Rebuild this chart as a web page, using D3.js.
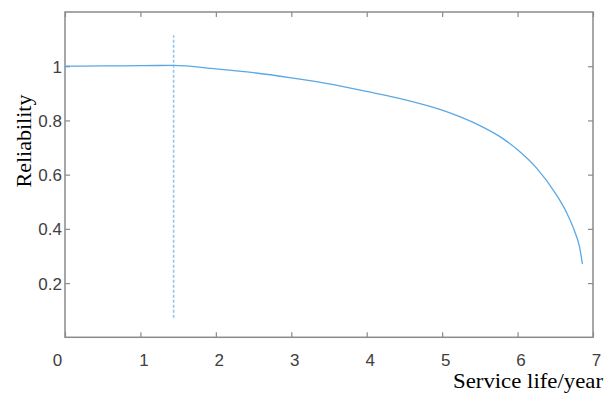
<!DOCTYPE html>
<html>
<head>
<meta charset="utf-8">
<script src="https://cdn.jsdelivr.net/npm/d3@7"></script>
<style>
  html, body { margin: 0; padding: 0; background: #fff; }
  svg { display: block; }
</style>
</head>
<body>
<svg id="chart" width="611" height="393"></svg>
<script>
// ---- data ----
const years = [0, 0.5, 1, 1.44, 2, 2.5, 3, 3.5, 4, 4.5, 5, 5.25, 5.5, 5.75, 6, 6.25, 6.5, 6.65, 6.75, 6.82, 6.86];
const reliability = [1.000, 1.001, 1.002, 1.003, 0.990, 0.976, 0.957, 0.935, 0.907, 0.877, 0.838, 0.812, 0.781, 0.743, 0.692, 0.625, 0.532, 0.460, 0.396, 0.335, 0.27];
const markerYear = [1.44];
const markerRange = [0.072, 1.114];
const xTicks = [0, 1, 2, 3, 4, 5, 6, 7];
const yTicks = [0.2, 0.4, 0.6, 0.8, 1];
const xTitle = "Service life/year";
const yTitle = "Reliability";

// ---- layout ----
const svg = d3.select("#chart");
const mLeft = 65, mRight = 593, mTop = 12, mBottom = 337.3;
const x = d3.scaleLinear().domain([0, 7]).range([mLeft, mRight]);
const y = d3.scaleLinear().domain([0, 1.2]).range([mBottom, mTop]);

const axisColor = "#8a8a8a";
const labelColor = "#404040";

// box
svg.append("rect")
  .attr("x", mLeft).attr("y", mTop)
  .attr("width", mRight - mLeft).attr("height", mBottom - mTop)
  .attr("fill", "none").attr("stroke", axisColor).attr("stroke-width", 1.5);

// bottom axis (inward ticks)
const gx = svg.append("g").attr("transform", `translate(0,${mBottom})`)
  .call(d3.axisBottom(x).tickValues(xTicks).tickSize(-5).tickPadding(0).tickFormat(d3.format("d")));
gx.select(".domain").remove();
gx.selectAll(".tick line").attr("stroke", axisColor).attr("stroke-width", 1.2);
gx.selectAll(".tick text")
  .attr("fill", labelColor)
  .style("font-family", "'Liberation Sans', Arial, sans-serif")
  .style("font-size", "17px")
  .attr("dy", null)
  .attr("y", 28.5)
  .attr("x", d => d === 0 ? -8 : 3);

// top ticks
const gxt = svg.append("g").attr("transform", `translate(0,${mTop})`)
  .call(d3.axisTop(x).tickValues(xTicks).tickSize(-5).tickFormat(""));
gxt.select(".domain").remove();
gxt.selectAll(".tick line").attr("stroke", axisColor).attr("stroke-width", 1.2);

// left axis
const gy = svg.append("g").attr("transform", `translate(${mLeft},0)`)
  .call(d3.axisLeft(y).tickValues(yTicks).tickSize(-5).tickPadding(0).tickFormat(d => String(d)));
gy.select(".domain").remove();
gy.selectAll(".tick line").attr("stroke", axisColor).attr("stroke-width", 1.2);
gy.selectAll(".tick text")
  .attr("fill", labelColor)
  .style("font-family", "'Liberation Sans', Arial, sans-serif")
  .style("font-size", "17px")
  .attr("x", -3)
  .attr("dy", "0.36em");

// right ticks
const gyr = svg.append("g").attr("transform", `translate(${mRight},0)`)
  .call(d3.axisRight(y).tickValues(yTicks).tickSize(-5).tickFormat(""));
gyr.select(".domain").remove();
gyr.selectAll(".tick line").attr("stroke", axisColor).attr("stroke-width", 1.2);

// dashed marker line
svg.append("line")
  .attr("x1", x(markerYear[0])).attr("x2", x(markerYear[0]))
  .attr("y1", y(markerRange[0])).attr("y2", y(markerRange[1]))
  .attr("stroke", "#8ec6ee").attr("stroke-width", 1.6)
  .attr("stroke-dasharray", "3,2");

// curve
const pts = years.map((d, i) => [d, reliability[i]]);
svg.append("path")
  .datum(pts)
  .attr("fill", "none")
  .attr("stroke", "#5aa8e4")
  .attr("stroke-width", 1.3)
  .attr("d", d3.line().x(d => x(d[0])).y(d => y(d[1])).curve(d3.curveMonotoneX));

// titles
svg.append("text")
  .attr("x", 603).attr("y", 388)
  .attr("text-anchor", "end")
  .attr("textLength", 150)
  .attr("lengthAdjust", "spacingAndGlyphs")
  .style("font-family", "'Liberation Serif', 'Times New Roman', serif")
  .style("font-size", "22px")
  .attr("fill", "#000")
  .text(xTitle);

svg.append("text")
  .attr("transform", "translate(31,141) rotate(-90)")
  .attr("text-anchor", "middle")
  .style("font-family", "'Liberation Serif', 'Times New Roman', serif")
  .style("font-size", "22px")
  .attr("fill", "#000")
  .text(yTitle);
</script>
</body>
</html>
